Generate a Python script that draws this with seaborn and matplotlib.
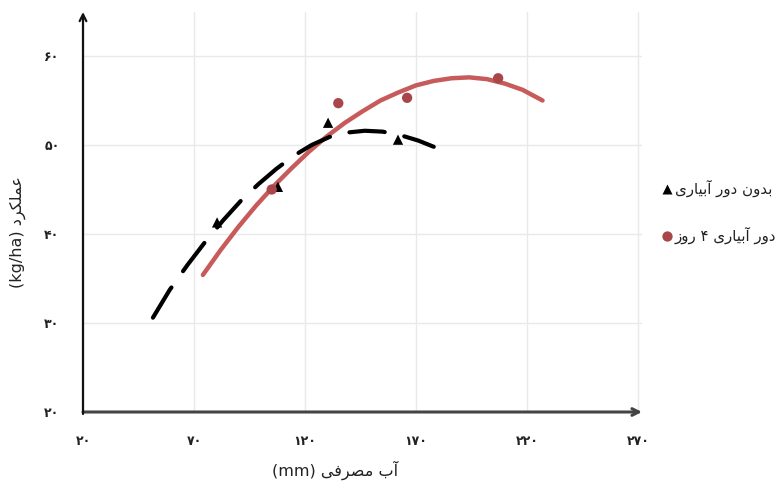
import numpy as np
import pandas as pd
import matplotlib
matplotlib.use("Agg")
import matplotlib.pyplot as plt
import seaborn as sns

# ---------------- data ----------------
water_no_cycle = [80.4, 107.8, 130.4, 161.9]
yield_no_cycle = [41.3, 45.3, 52.5, 50.6]

water_4day = [105.0, 135.0, 166.0, 207.0]
yield_4day = [45.0, 54.7, 55.3, 57.5]

# trend curves as traced on the picture
trend_no_x = [51.5, 59, 67, 75, 83, 91, 99, 107, 115, 123, 131, 139, 147, 155, 163, 171, 178]
trend_no_y = [30.6, 33.7, 36.5, 39.1, 41.5, 43.7, 45.6, 47.3, 48.8, 50.0, 50.9, 51.4, 51.6, 51.5, 51.1, 50.5, 49.8]

trend_4d_x = [74, 82, 90, 98, 106, 114, 122, 130, 138, 146, 154, 162, 170, 178, 186, 194, 202, 210, 218, 227]
trend_4d_y = [35.4, 38.2, 40.8, 43.2, 45.4, 47.4, 49.3, 51.0, 52.5, 53.8, 55.0, 55.9, 56.7, 57.2, 57.5, 57.6, 57.4, 56.9, 56.2, 55.0]

x_ticks = [20, 70, 120, 170, 220, 270]
x_tick_labels = ["۲۰", "۷۰", "۱۲۰", "۱۷۰", "۲۲۰", "۲۷۰"]
y_ticks = [20, 30, 40, 50, 60]
y_tick_labels = ["۲۰", "۳۰", "۴۰", "۵۰", "۶۰"]

series_names = ["بدون دور آبیاری", "دور آبیاری ۴ روز"]
x_title = "آب مصرفی"
y_title = "عملکرد"

# ---------------- simple Persian shaping for matplotlib ----------------
FORMS = {
    "ا": ("\uFE8D", "\uFE8E", "\uFE8D", "\uFE8E"),
    "آ": ("\uFE81", "\uFE82", "\uFE81", "\uFE82"),
    "ب": ("\uFE8F", "\uFE90", "\uFE91", "\uFE92"),
    "م": ("\uFEE1", "\uFEE2", "\uFEE3", "\uFEE4"),
    "ص": ("\uFEB9", "\uFEBA", "\uFEBB", "\uFEBC"),
    "ر": ("\uFEAD", "\uFEAE", "\uFEAD", "\uFEAE"),
    "ز": ("\uFEAF", "\uFEB0", "\uFEAF", "\uFEB0"),
    "د": ("\uFEA9", "\uFEAA", "\uFEA9", "\uFEAA"),
    "و": ("\uFEED", "\uFEEE", "\uFEED", "\uFEEE"),
    "ف": ("\uFED1", "\uFED2", "\uFED3", "\uFED4"),
    "ع": ("\uFEC9", "\uFECA", "\uFECB", "\uFECC"),
    "ل": ("\uFEDD", "\uFEDE", "\uFEDF", "\uFEE0"),
    "ن": ("\uFEE5", "\uFEE6", "\uFEE7", "\uFEE8"),
    "ی": ("\uFBFC", "\uFBFD", "\uFBFE", "\uFBFF"),
    "ک": ("\uFB8E", "\uFB8F", "\uFB90", "\uFB91"),
}
RIGHT_ONLY = set("اآدذرزژو")


def shape(s):
    out = []
    for i, c in enumerate(s):
        if c not in FORMS:
            out.append(c)
            continue
        prev = s[i - 1] if i > 0 else None
        nxt = s[i + 1] if i + 1 < len(s) else None
        jp = prev in FORMS and prev not in RIGHT_ONLY
        jn = (c not in RIGHT_ONLY) and (nxt in FORMS)
        iso, fin, ini, med = FORMS[c]
        out.append(med if (jp and jn) else fin if jp else ini if jn else iso)
    return "".join(out)


def rtl(s):
    return shape(s)[::-1]


# ---------------- figure ----------------
sns.set_theme(style="white")
plt.rcParams["font.family"] = ["DejaVu Sans"]

fig = plt.figure(figsize=(7.83, 4.86), dpi=100)
ax = fig.add_axes([83 / 783, 74 / 486, 559 / 783, 400 / 486])

red_line = "#c75a5b"
red_dot = "#a9464a"

sns.lineplot(x=trend_4d_x, y=trend_4d_y, ax=ax, color=red_line, linewidth=3.2,
             sort=False, estimator=None, legend=False, zorder=3)
sns.lineplot(x=trend_no_x, y=trend_no_y, ax=ax, color="black", linewidth=3,
             sort=False, estimator=None, legend=False, zorder=4)
ln = ax.lines[-1]
ln.set_dashes([8.5, 4.8])
ln.set_dash_capstyle("round")

df = pd.DataFrame({
    "water": water_no_cycle + water_4day,
    "yield": yield_no_cycle + yield_4day,
    "series": [series_names[0]] * len(water_no_cycle) + [series_names[1]] * len(water_4day),
})
sns.scatterplot(data=df, x="water", y="yield", hue="series", style="series",
                hue_order=series_names, style_order=series_names,
                palette={series_names[0]: "black", series_names[1]: red_dot},
                markers={series_names[0]: "^", series_names[1]: "o"},
                s=55, edgecolor="none", ax=ax, zorder=6)

ax.set_xlim(20, 20 + 559 * 50 / 111)
ax.set_ylim(20, 20 + 400 * 10 / 89)

ax.set_xticks(x_ticks)
ax.set_xticklabels(x_tick_labels, fontsize=9, fontweight="bold", color="#222222")
ax.set_yticks(y_ticks)
ax.set_yticklabels(y_tick_labels, fontsize=9, fontweight="bold", color="#222222")
ax.tick_params(axis="x", direction="inout", length=5, width=1.5, color="#404040", pad=14)
ax.tick_params(axis="y", length=0, pad=17)

ax.grid(True, color="#e9e9e9", linewidth=1)
ax.set_axisbelow(True)
for sp in ax.spines.values():
    sp.set_visible(False)

ax.set_xlabel("")
ax.set_ylabel("")

# axis lines with arrows
ax.annotate("", xy=(1, 0), xytext=(0, 0), xycoords="axes fraction",
            arrowprops=dict(arrowstyle="->", color="#444444", lw=2.2,
                            shrinkA=0, shrinkB=0), zorder=7)
ax.annotate("", xy=(0, 1), xytext=(0, -0.005), xycoords="axes fraction",
            arrowprops=dict(arrowstyle="->", color="#111111", lw=1.6,
                            shrinkA=0, shrinkB=0), zorder=7)

# axis titles
fig.text(335 / 783, 1 - 470 / 486, "(mm) " + rtl(x_title), ha="center", va="center",
         fontsize=11.5, color="#222222")
fig.text(18 / 783, 1 - 232 / 486, "(kg/ha) " + rtl(y_title), ha="center", va="center",
         rotation=90, fontsize=11.5, color="#222222")

# legend
handles, labels = ax.get_legend_handles_labels()
hmap = dict(zip(labels, handles))
leg = ax.legend([hmap[n] for n in series_names], [rtl(n) for n in series_names],
                loc="center left", bbox_to_anchor=(654 / 783, 1 - 212 / 486),
                bbox_transform=fig.transFigure, frameon=False, fontsize=10.8,
                handlelength=0.7, handletextpad=0.2, labelspacing=2.0,
                borderpad=0, labelcolor="#222222")

fig.savefig("out.png", dpi=100)
